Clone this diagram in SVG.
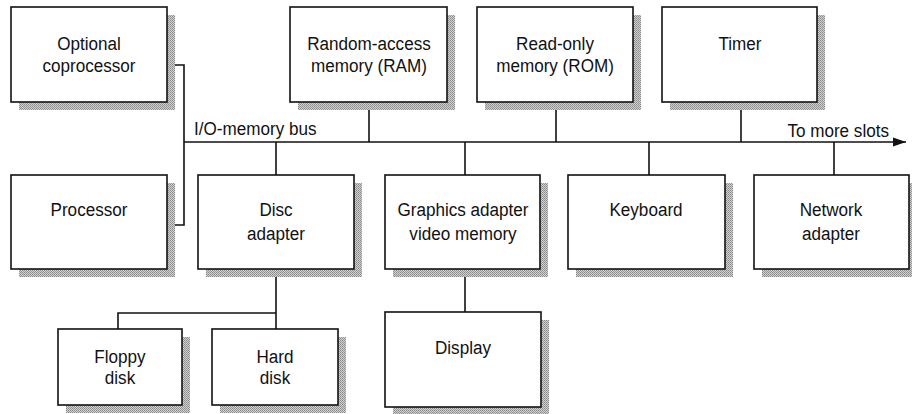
<svg xmlns="http://www.w3.org/2000/svg" width="913" height="414" viewBox="0 0 913 414">
<style>
.box{fill:#fff;stroke:#111;stroke-width:1.6}
.t{font-family:"Liberation Sans",Arial,sans-serif;font-size:19px;fill:#111;text-anchor:middle}
.lbl{font-family:"Liberation Sans",Arial,sans-serif;font-size:19px;fill:#111}
.c{fill:none;stroke:#111;stroke-width:1.6}
</style>
<defs>
<pattern id="dots" width="2" height="2" patternUnits="userSpaceOnUse">
<rect width="2" height="2" fill="#d0d0d0"/>
<rect width="1" height="1" fill="#8a8a8a"/>
<rect x="1" y="1" width="1" height="1" fill="#9a9a9a"/>
</pattern>
<marker id="arr" markerWidth="14" markerHeight="10" refX="13" refY="5" orient="auto" markerUnits="userSpaceOnUse">
<path d="M0,0.5 L13,5 L0,9.5 Z" fill="#111"/>
</marker>
</defs>
<g id="connectors">
<path class="c" d="M184,142 H906" marker-end="url(#arr)"/>
<path class="c" d="M167,65 H184 V225 H167"/>
<path class="c" d="M369,102 V142"/>
<path class="c" d="M556,102 V142"/>
<path class="c" d="M741,102 V142"/>
<path class="c" d="M276,142 V175"/>
<path class="c" d="M465,142 V175"/>
<path class="c" d="M649,142 V175"/>
<path class="c" d="M834,142 V175"/>
<path class="c" d="M276,269 V329"/>
<path class="c" d="M276,313 H118 V329"/>
<path class="c" d="M465,269 V312"/>
<text class="lbl" transform="translate(194,135) scale(0.9,1)">I/O-memory bus</text>
<text class="lbl" transform="translate(889,137) scale(0.9,1)" text-anchor="end">To more slots</text>
</g>
<g id="coprocessor">
<rect fill="url(#dots)" x="19" y="15" width="156" height="95"/>
<rect class="box" x="11" y="7" width="156" height="95"/>
<text class="t" transform="translate(89,50) scale(0.9,1)">Optional</text>
<text class="t" transform="translate(89,72) scale(0.9,1)">coprocessor</text>
</g>
<g id="ram">
<rect fill="url(#dots)" x="298" y="15" width="157" height="95"/>
<rect class="box" x="290" y="7" width="157" height="95"/>
<text class="t" transform="translate(369,50) scale(0.9,1)">Random-access</text>
<text class="t" transform="translate(369,72) scale(0.9,1)">memory (RAM)</text>
</g>
<g id="rom">
<rect fill="url(#dots)" x="485" y="15" width="156" height="95"/>
<rect class="box" x="477" y="7" width="156" height="95"/>
<text class="t" transform="translate(555,50) scale(0.9,1)">Read-only</text>
<text class="t" transform="translate(555,72) scale(0.9,1)">memory (ROM)</text>
</g>
<g id="timer">
<rect fill="url(#dots)" x="670" y="15" width="155" height="95"/>
<rect class="box" x="662" y="7" width="155" height="95"/>
<text class="t" transform="translate(740,50) scale(0.9,1)">Timer</text>
</g>
<g id="processor">
<rect fill="url(#dots)" x="19" y="183" width="156" height="94"/>
<rect class="box" x="11" y="175" width="156" height="94"/>
<text class="t" transform="translate(89,216) scale(0.9,1)">Processor</text>
</g>
<g id="disc">
<rect fill="url(#dots)" x="206" y="183" width="156" height="94"/>
<rect class="box" x="198" y="175" width="156" height="94"/>
<text class="t" transform="translate(276,216) scale(0.9,1)">Disc</text>
<text class="t" transform="translate(276,240) scale(0.9,1)">adapter</text>
</g>
<g id="graphics">
<rect fill="url(#dots)" x="393" y="183" width="155" height="94"/>
<rect class="box" x="385" y="175" width="155" height="94"/>
<text class="t" transform="translate(463,216) scale(0.9,1)">Graphics adapter</text>
<text class="t" transform="translate(463,240) scale(0.9,1)">video memory</text>
</g>
<g id="keyboard">
<rect fill="url(#dots)" x="576" y="183" width="157" height="94"/>
<rect class="box" x="568" y="175" width="157" height="94"/>
<text class="t" transform="translate(646,216) scale(0.9,1)">Keyboard</text>
</g>
<g id="network">
<rect fill="url(#dots)" x="762" y="183" width="150" height="94"/>
<rect class="box" x="754" y="175" width="155" height="94"/>
<text class="t" transform="translate(831,216) scale(0.9,1)">Network</text>
<text class="t" transform="translate(831,240) scale(0.9,1)">adapter</text>
</g>
<g id="floppy">
<rect fill="url(#dots)" x="66" y="337" width="124" height="76"/>
<rect class="box" x="58" y="329" width="124" height="76"/>
<text class="t" transform="translate(120,363) scale(0.9,1)">Floppy</text>
<text class="t" transform="translate(120,384) scale(0.9,1)">disk</text>
</g>
<g id="hard">
<rect fill="url(#dots)" x="220" y="337" width="126" height="76"/>
<rect class="box" x="212" y="329" width="126" height="76"/>
<text class="t" transform="translate(275,363) scale(0.9,1)">Hard</text>
<text class="t" transform="translate(275,384) scale(0.9,1)">disk</text>
</g>
<g id="display">
<rect fill="url(#dots)" x="393" y="320" width="156" height="95"/>
<rect class="box" x="385" y="312" width="156" height="95"/>
<text class="t" transform="translate(463,354) scale(0.9,1)">Display</text>
</g>
</svg>
